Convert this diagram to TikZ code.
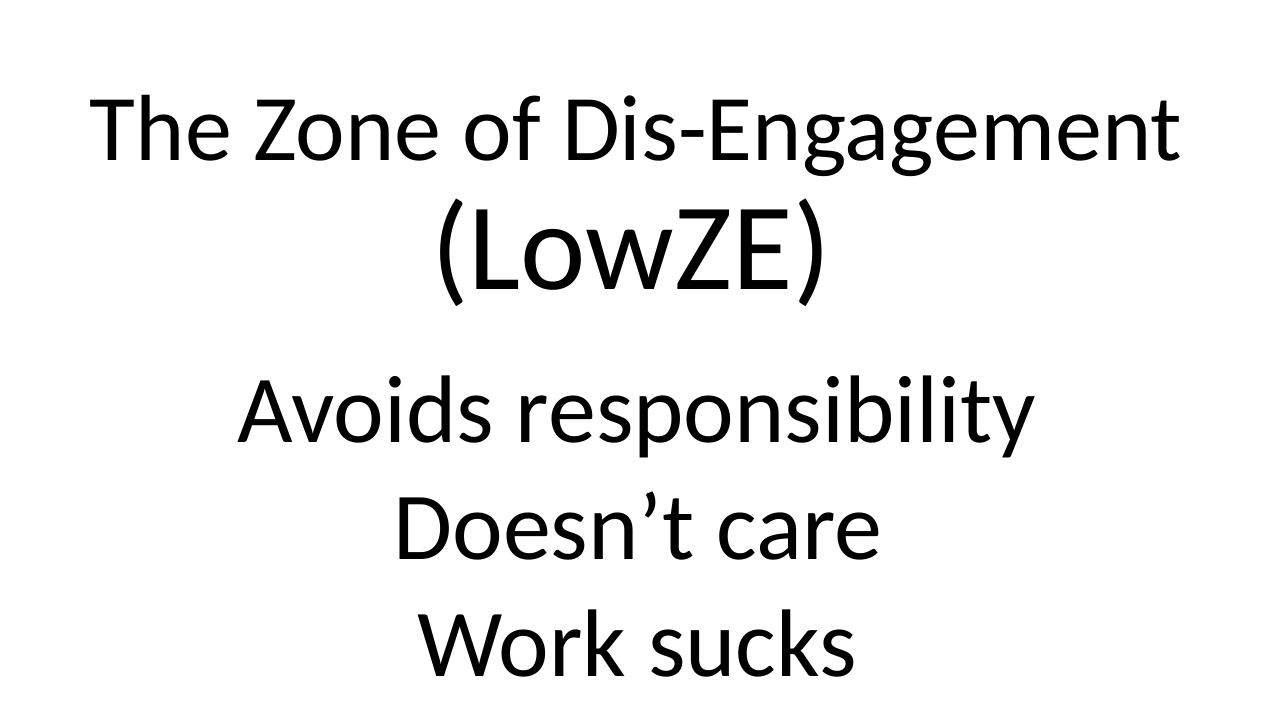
\documentclass[tikz,border=0pt]{standalone}
\usepackage{fontspec}
\setmainfont{Carlito}
\begin{document}
\begin{tikzpicture}[x=1pt,y=1pt,
  titletext/.style={anchor=base,inner sep=0pt,font=\fontsize{94}{113}\selectfont},
  subtitletext/.style={anchor=base,inner sep=0pt,font=\fontsize{124}{150}\selectfont},
  bodytext/.style={anchor=base,inner sep=0pt,font=\fontsize{96}{117}\selectfont}]
\useasboundingbox[fill=white] (0,0) rectangle (1280,720);
\node[titletext] (t1) at (636,559) {The Zone of Dis-Engagement};
\node[subtitletext] (t2) at (631,430) {(LowZE)};
\node[bodytext] (b1) at (637,277) {Avoids responsibility};
\node[bodytext] (b2) at (638,160) {Doesn’t care};
\node[bodytext] (b3) at (637,43) {Work sucks};
\end{tikzpicture}
\end{document}
